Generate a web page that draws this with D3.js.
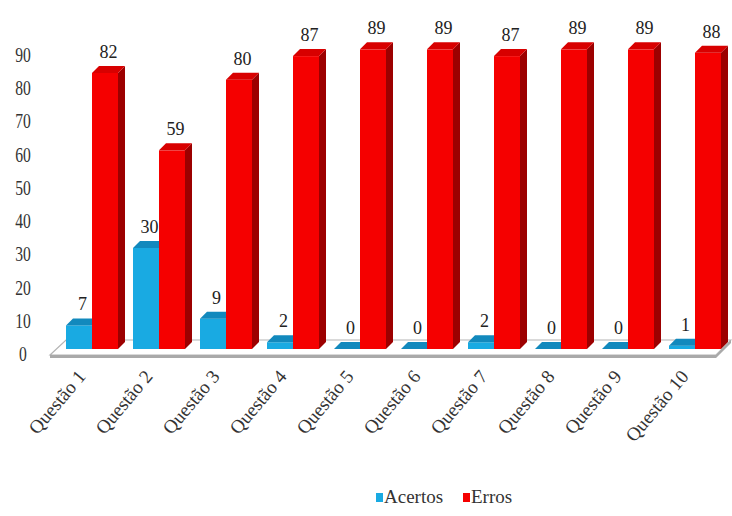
<!DOCTYPE html>
<html>
<head>
<meta charset="utf-8">
<script src="https://cdn.jsdelivr.net/npm/d3@7"></script>
<style>
  html, body { margin: 0; padding: 0; background: #fff; }
  svg { display: block; }
  text { font-family: "Liberation Serif", "DejaVu Serif", serif; }
</style>
</head>
<body>
<svg id="chart" width="732" height="516"></svg>
<script>
const categories = ["Questão 1", "Questão 2", "Questão 3", "Questão 4", "Questão 5",
                    "Questão 6", "Questão 7", "Questão 8", "Questão 9", "Questão 10"];
const seriesNames = ["Acertos", "Erros"];
const acertos = [7, 30, 9, 2, 0, 0, 2, 0, 0, 1];
const erros = [82, 59, 80, 87, 89, 89, 87, 89, 89, 88];
const yTicks = [0, 10, 20, 30, 40, 50, 60, 70, 80, 90];

// face colours: front, top, side
const palette = {
  Acertos: { front: "#19aae2", top: "#1289bd", side: "#0d6f9a" },
  Erros:   { front: "#f50000", top: "#d80000", side: "#9c0000" }
};

const svg = d3.select("#chart");

const x = d3.scaleBand().domain(categories).range([55, 725]);
const inner = d3.scaleBand().domain(seriesNames).range([11, 63]);
const y = d3.scaleLinear().domain([0, 90]).range([349, 46]);
const yWall = d3.scaleLinear().domain([0, 90]).range([354, 55]);

const depthX = 7, depthY = 7;

// floor of the 3D plot
const floor = svg.append("g");
floor.append("polygon")
  .attr("points", [[50, 355], [66, 340], [731, 340], [716, 355]].join(" "))
  .attr("fill", "#fff")
  .attr("stroke", "#b4b4b4")
  .attr("stroke-width", 1.2);
floor.append("polygon")
  .attr("points", [[50, 355], [716, 355], [731, 340], [731, 343], [716, 358], [50, 358]].join(" "))
  .attr("fill", "#a9a9a9");

// vertical axis labels
svg.append("g").selectAll("text")
  .data(yTicks)
  .join("text")
  .attr("transform", d => `translate(23,${yWall(d)}) scale(0.78,1)`)
  .attr("text-anchor", "middle")
  .attr("dy", "0.35em")
  .attr("font-size", 20)
  .attr("fill", "#333")
  .text(d => d);

// bars
const rows = categories.map((c, i) => ({ c, values: [
  { s: "Acertos", v: acertos[i] },
  { s: "Erros", v: erros[i] }
]}));

const bars = svg.append("g");
rows.forEach(row => {
  row.values.forEach(d => {
    const x0 = x(row.c) + inner(d.s);
    const w = inner.bandwidth();
    const yt = y(d.v), yb = y(0);
    const col = palette[d.s];
    const g = bars.append("g");
    if (d.v > 0) {
      g.append("polygon")
        .attr("points", [[x0 + w, yt], [x0 + w + depthX, yt - depthY], [x0 + w + depthX, yb - depthY], [x0 + w, yb]].join(" "))
        .attr("fill", col.side);
      g.append("rect")
        .attr("x", x0).attr("y", yt)
        .attr("width", w).attr("height", yb - yt)
        .attr("fill", col.front);
    }
    g.append("polygon")
      .attr("points", [[x0, yt], [x0 + depthX, yt - depthY], [x0 + w + depthX, yt - depthY], [x0 + w, yt]].join(" "))
      .attr("fill", col.top);
    // value label
    g.append("text")
      .attr("x", x0 + w / 2 + depthX / 2)
      .attr("y", yt - depthY - 8)
      .attr("text-anchor", "middle")
      .attr("font-size", 18)
      .attr("fill", "#222")
      .text(d.v);
  });
});

// category labels, slanted
svg.append("g").selectAll("text")
  .data(categories)
  .join("text")
  .attr("transform", d => `translate(${x(d) + x.bandwidth() / 2 - 2},377) rotate(-50)`)
  .attr("text-anchor", "end")
  .attr("font-size", 19)
  .attr("fill", "#333")
  .text(d => d);

// legend
const legend = svg.append("g").attr("transform", "translate(376,503)");
const legendX = d3.scaleOrdinal().domain(seriesNames).range([0, 87]);
const item = legend.selectAll("g")
  .data(seriesNames)
  .join("g")
  .attr("transform", d => `translate(${legendX(d)},0)`);
item.append("rect")
  .attr("x", 0).attr("y", -10)
  .attr("width", 7).attr("height", 9)
  .attr("fill", d => palette[d].front);
item.append("text")
  .attr("x", 8).attr("y", 0)
  .attr("font-size", 19)
  .attr("fill", "#333")
  .text(d => d);
</script>
</body>
</html>
